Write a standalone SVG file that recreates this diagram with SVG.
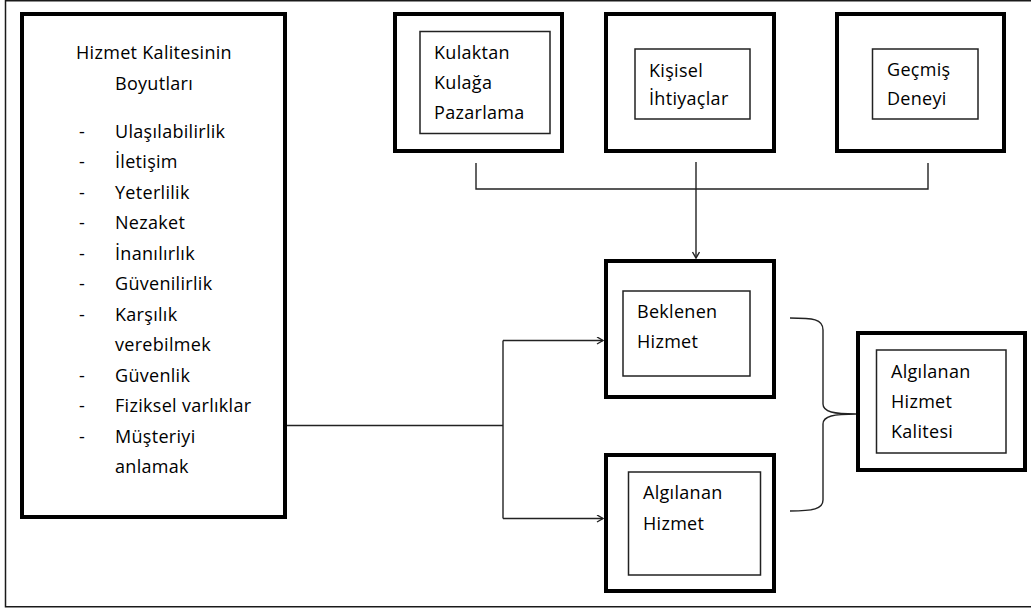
<svg xmlns="http://www.w3.org/2000/svg" width="1031" height="613" viewBox="0 0 1031 613">
  <style>
    .frame { fill: none; stroke: #1a1a1a; stroke-width: 1.5; }
    .outer { fill: #fff; stroke: #000; stroke-width: 4; }
    .inner { fill: #fff; stroke: #222; stroke-width: 1.5; }
    .link { fill: none; stroke: #222; stroke-width: 1.4; }
    text { font-family: "Open Sans", "Noto Sans", "Liberation Sans", sans-serif; font-size: 18px; letter-spacing: 0.3px; fill: #000; }
  </style>
  <defs>
    <marker id="arrow" markerUnits="userSpaceOnUse" markerWidth="10" markerHeight="10" refX="7" refY="4" orient="auto">
      <path d="M1,0.5 L7,4 L1,7.5" fill="none" stroke="#222" stroke-width="1.4"/>
    </marker>
  </defs>

  <rect width="1031" height="613" fill="#fff"/>
  <!-- page frame; right edge runs past the canvas -->
  <rect class="frame" x="5.5" y="0.75" width="1040" height="606"/>

  <!-- dimensions of service quality -->
  <g id="boyutlar">
    <rect class="outer" x="22" y="14" width="263" height="503"/>
    <text x="154" y="58.5" text-anchor="middle">Hizmet Kalitesinin</text>
    <text x="154" y="89.5" text-anchor="middle">Boyutları</text>
    <g>
      <text x="79" y="137.5">-</text><text x="115" y="137.5">Ulaşılabilirlik</text>
      <text x="79" y="168">-</text><text x="115" y="168">İletişim</text>
      <text x="79" y="198.5">-</text><text x="115" y="198.5">Yeterlilik</text>
      <text x="79" y="229">-</text><text x="115" y="229">Nezaket</text>
      <text x="79" y="259.5">-</text><text x="115" y="259.5">İnanılırlık</text>
      <text x="79" y="290">-</text><text x="115" y="290">Güvenilirlik</text>
      <text x="79" y="320.5">-</text><text x="115" y="320.5">Karşılık</text>
      <text x="115" y="351">verebilmek</text>
      <text x="79" y="381.5">-</text><text x="115" y="381.5">Güvenlik</text>
      <text x="79" y="412">-</text><text x="115" y="412">Fiziksel varlıklar</text>
      <text x="79" y="442.5">-</text><text x="115" y="442.5">Müşteriyi</text>
      <text x="115" y="473">anlamak</text>
    </g>
  </g>

  <g id="kulaktan-kulaga">
    <rect class="outer" x="395" y="14" width="167" height="137"/>
    <rect class="inner" x="420" y="31.5" width="130" height="102"/>
    <text x="434" y="58.5">Kulaktan</text>
    <text x="434" y="89">Kulağa</text>
    <text x="434" y="118.5">Pazarlama</text>
  </g>

  <g id="kisisel-ihtiyaclar">
    <rect class="outer" x="606" y="14" width="168" height="137"/>
    <rect class="inner" x="635" y="49" width="115" height="70"/>
    <text x="649" y="76.5">Kişisel</text>
    <text x="649" y="105">İhtiyaçlar</text>
  </g>

  <g id="gecmis-deneyi">
    <rect class="outer" x="837" y="14" width="167" height="137"/>
    <rect class="inner" x="872.5" y="49" width="105.5" height="70"/>
    <text x="887" y="75.5">Geçmiş</text>
    <text x="887" y="105">Deneyi</text>
  </g>

  <g id="beklenen-hizmet">
    <rect class="outer" x="606" y="261" width="168" height="136"/>
    <rect class="inner" x="623" y="291" width="127" height="85"/>
    <text x="637" y="317.5">Beklenen</text>
    <text x="637" y="347.5">Hizmet</text>
  </g>

  <g id="algilanan-hizmet">
    <rect class="outer" x="606" y="455" width="168" height="136"/>
    <rect class="inner" x="628.5" y="472" width="132" height="103"/>
    <text x="643" y="498.5">Algılanan</text>
    <text x="643" y="529.5">Hizmet</text>
  </g>

  <g id="algilanan-hizmet-kalitesi">
    <rect class="outer" x="858" y="333" width="167" height="137"/>
    <rect class="inner" x="876.5" y="350" width="129.5" height="103"/>
    <text x="891" y="377.5">Algılanan</text>
    <text x="891" y="408">Hizmet</text>
    <text x="891" y="437.5">Kalitesi</text>
  </g>

  <g id="connectors">
    <!-- three sources merge into the expected service -->
    <path class="link" d="M476,163 V189 H928 V163"/>
    <path class="link" d="M696,162 V258" marker-end="url(#arrow)"/>
    <!-- dimensions feed both service boxes -->
    <path class="link" d="M287,425.5 H503"/>
    <path class="link" d="M503,340.5 V518.5"/>
    <path class="link" d="M503,340.5 H603" marker-end="url(#arrow)"/>
    <path class="link" d="M503,518.5 H603" marker-end="url(#arrow)"/>
    <!-- brace joining both into perceived quality -->
    <path class="link" d="M790,318 C813,318 823,319 823,330 V404 C823,412 834,414 856,414 C834,414 823,416 823,424 V500 C823,509 813,511 790,511"/>
  </g>
</svg>
